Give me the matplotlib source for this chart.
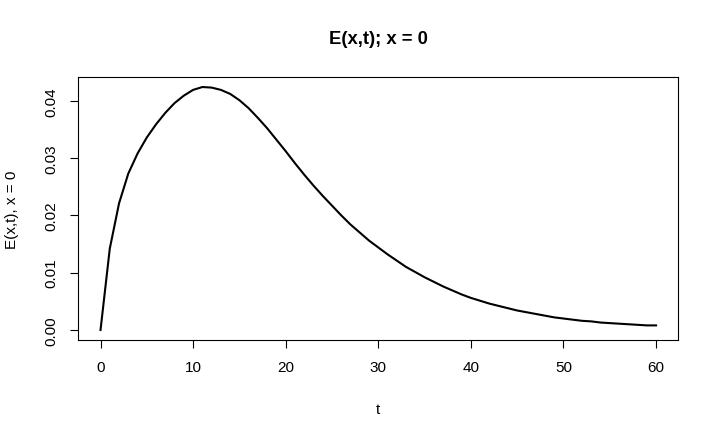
import matplotlib
matplotlib.use("Agg")
import matplotlib.pyplot as plt

plt.rcParams['font.family'] = ['Liberation Sans', 'DejaVu Sans']

t = list(range(0, 61))
E = [0.0000, 0.0142, 0.0221, 0.0273, 0.0308, 0.0336, 0.0359, 0.0379, 0.0396, 0.0409,
     0.0419, 0.0424, 0.0423, 0.0419, 0.0412, 0.0401, 0.0387, 0.0370, 0.0352, 0.0332,
     0.0312, 0.0291, 0.0271, 0.0252, 0.0234, 0.0217, 0.0200, 0.0184, 0.0170, 0.0156,
     0.0144, 0.0132, 0.0121, 0.0110, 0.0101, 0.0092, 0.0084, 0.0076, 0.0069, 0.0062,
     0.0056, 0.0051, 0.0046, 0.0042, 0.0038, 0.0034, 0.0031, 0.0028, 0.0025, 0.0022,
     0.0020, 0.0018, 0.0016, 0.0015, 0.0013, 0.0012, 0.0011, 0.0010, 0.0009, 0.0008,
     0.0008]
xticks = [0, 10, 20, 30, 40, 50, 60]
yticks = [0.00, 0.01, 0.02, 0.03, 0.04]
ytick_labels = ["0.00", "0.01", "0.02", "0.03", "0.04"]
title = "E(x,t); x = 0"
xlabel = "t"
ylabel = "E(x,t), x = 0"

W, H = 719, 439
fig = plt.figure(figsize=(W / 100, H / 100), dpi=100)
L, R, T, B = 78.3, 678.3, 78.3, 340.7
ax = fig.add_axes([L / W, 1 - B / H, (R - L) / W, (B - T) / H])

ax.plot(t, E, color='black', lw=1.5)

xr = max(t) - min(t)
ax.set_xlim(min(t) - 0.04 * xr, max(t) + 0.04 * xr)
yr = max(E) - min(E)
ax.set_ylim(min(E) - 0.04 * yr, max(E) + 0.04 * yr)

ax.set_xticks(xticks)
ax.set_xticklabels([str(v) for v in xticks])
ax.set_yticks(yticks)
ax.set_yticklabels(ytick_labels, rotation=90, va='center')

fs = 11
ax.tick_params(axis='both', direction='out', length=5.8, width=0.8, colors='black',
               labelsize=fs)
ax.tick_params(axis='x', pad=9.0)
ax.tick_params(axis='y', pad=8.5)
for s in ax.spines.values():
    s.set_linewidth(0.8)
    s.set_color('black')

ax.set_xlabel(xlabel, fontsize=fs)
ax.xaxis.set_label_coords(0.5, (B - 410) / (B - T))
ax.xaxis.label.set_va('center')
ax.set_ylabel(ylabel, fontsize=fs)
ax.yaxis.set_label_coords((12.5 - L) / (R - L), 0.5)
ax.yaxis.label.set_va('center')

ax.text(0.5, 1 + (T - 40) / (B - T), title, transform=ax.transAxes,
        ha='center', va='center', fontsize=13.3, fontweight='bold')

fig.savefig("out.png", dpi=100)
